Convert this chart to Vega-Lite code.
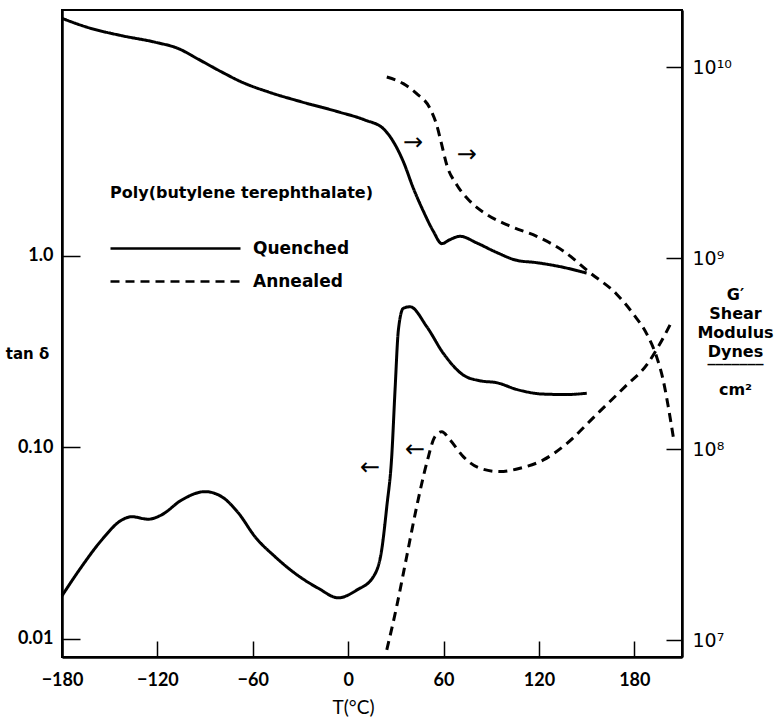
{
  "$schema": "https://vega.github.io/schema/vega-lite/v6.json",
  "autosize": {"type": "none"},
  "padding": {"left": 62, "top": 10, "right": 100, "bottom": 60},
  "width": 620,
  "height": 647,
  "background": "white",
  "config": {
    "font": "Lato",
    "view": {"stroke": "black", "strokeWidth": 2},
    "axis": {"grid": false, "domainColor": "black", "tickColor": "black", "labelColor": "black", "titleColor": "black", "domainWidth": 2.5, "tickWidth": 1.5}
  },
  "datasets": {
    "tand": [
      {"T": -180, "tand": 0.0168, "sample": "Quenched"},
      {"T": -167.6, "tand": 0.0239, "sample": "Quenched"},
      {"T": -155.0, "tand": 0.0329, "sample": "Quenched"},
      {"T": -142.4, "tand": 0.0418, "sample": "Quenched"},
      {"T": -136.2, "tand": 0.0435, "sample": "Quenched"},
      {"T": -125.7, "tand": 0.0422, "sample": "Quenched"},
      {"T": -117.3, "tand": 0.0445, "sample": "Quenched"},
      {"T": -104.7, "tand": 0.0532, "sample": "Quenched"},
      {"T": -90.0, "tand": 0.0588, "sample": "Quenched"},
      {"T": -79.5, "tand": 0.0553, "sample": "Quenched"},
      {"T": -68.9, "tand": 0.0453, "sample": "Quenched"},
      {"T": -58.6, "tand": 0.0342, "sample": "Quenched"},
      {"T": -46.0, "tand": 0.0269, "sample": "Quenched"},
      {"T": -33.4, "tand": 0.0220, "sample": "Quenched"},
      {"T": -18.8, "tand": 0.0184, "sample": "Quenched"},
      {"T": -6.2, "tand": 0.0164, "sample": "Quenched"},
      {"T": 5.4, "tand": 0.0180, "sample": "Quenched"},
      {"T": 15.8, "tand": 0.0211, "sample": "Quenched"},
      {"T": 21.1, "tand": 0.0292, "sample": "Quenched"},
      {"T": 24.3, "tand": 0.0491, "sample": "Quenched"},
      {"T": 27.4, "tand": 0.0895, "sample": "Quenched"},
      {"T": 29.5, "tand": 0.200, "sample": "Quenched"},
      {"T": 31.6, "tand": 0.411, "sample": "Quenched"},
      {"T": 34.7, "tand": 0.533, "sample": "Quenched"},
      {"T": 38.9, "tand": 0.543, "sample": "Quenched"},
      {"T": 49.4, "tand": 0.428, "sample": "Quenched"},
      {"T": 59.9, "tand": 0.310, "sample": "Quenched"},
      {"T": 72.4, "tand": 0.239, "sample": "Quenched"},
      {"T": 82.9, "tand": 0.223, "sample": "Quenched"},
      {"T": 93.4, "tand": 0.218, "sample": "Quenched"},
      {"T": 106.0, "tand": 0.201, "sample": "Quenched"},
      {"T": 122.8, "tand": 0.190, "sample": "Quenched"},
      {"T": 137.5, "tand": 0.189, "sample": "Quenched"},
      {"T": 150.1, "tand": 0.192, "sample": "Quenched"},
      {"T": 24.3, "tand": 0.00877, "sample": "Annealed"},
      {"T": 30.5, "tand": 0.01475, "sample": "Annealed"},
      {"T": 36.8, "tand": 0.0269, "sample": "Annealed"},
      {"T": 43.1, "tand": 0.0491, "sample": "Annealed"},
      {"T": 49.4, "tand": 0.0827, "sample": "Annealed"},
      {"T": 54.6, "tand": 0.114, "sample": "Annealed"},
      {"T": 58.9, "tand": 0.121, "sample": "Annealed"},
      {"T": 64.1, "tand": 0.1094, "sample": "Annealed"},
      {"T": 72.4, "tand": 0.0896, "sample": "Annealed"},
      {"T": 82.9, "tand": 0.0779, "sample": "Annealed"},
      {"T": 95.5, "tand": 0.0748, "sample": "Annealed"},
      {"T": 108.1, "tand": 0.0779, "sample": "Annealed"},
      {"T": 122.8, "tand": 0.0861, "sample": "Annealed"},
      {"T": 137.0, "tand": 0.104, "sample": "Annealed"},
      {"T": 155.3, "tand": 0.146, "sample": "Annealed"},
      {"T": 174.2, "tand": 0.208, "sample": "Annealed"},
      {"T": 187.8, "tand": 0.270, "sample": "Annealed"},
      {"T": 196.3, "tand": 0.350, "sample": "Annealed"},
      {"T": 203.5, "tand": 0.454, "sample": "Annealed"}
    ],
    "gmod": [
      {"T": -180, "G": 1.80e10, "sample": "Quenched"},
      {"T": -163.5, "G": 1.61e10, "sample": "Quenched"},
      {"T": -142.4, "G": 1.46e10, "sample": "Quenched"},
      {"T": -121.5, "G": 1.35e10, "sample": "Quenched"},
      {"T": -106.8, "G": 1.25e10, "sample": "Quenched"},
      {"T": -94.3, "G": 1.10e10, "sample": "Quenched"},
      {"T": -79.5, "G": 9.42e9, "sample": "Quenched"},
      {"T": -67.0, "G": 8.35e9, "sample": "Quenched"},
      {"T": -50.2, "G": 7.41e9, "sample": "Quenched"},
      {"T": -29.2, "G": 6.57e9, "sample": "Quenched"},
      {"T": -6.2, "G": 5.83e9, "sample": "Quenched"},
      {"T": 10.6, "G": 5.28e9, "sample": "Quenched"},
      {"T": 22.0, "G": 4.77e9, "sample": "Quenched"},
      {"T": 28.4, "G": 4.07e9, "sample": "Quenched"},
      {"T": 34.7, "G": 3.20e9, "sample": "Quenched"},
      {"T": 41.0, "G": 2.32e9, "sample": "Quenched"},
      {"T": 47.3, "G": 1.76e9, "sample": "Quenched"},
      {"T": 53.6, "G": 1.38e9, "sample": "Quenched"},
      {"T": 58.9, "G": 1.19e9, "sample": "Quenched"},
      {"T": 64.1, "G": 1.25e9, "sample": "Quenched"},
      {"T": 70.4, "G": 1.30e9, "sample": "Quenched"},
      {"T": 80.9, "G": 1.20e9, "sample": "Quenched"},
      {"T": 93.4, "G": 1.07e9, "sample": "Quenched"},
      {"T": 106.0, "G": 9.73e8, "sample": "Quenched"},
      {"T": 118.6, "G": 9.46e8, "sample": "Quenched"},
      {"T": 131.2, "G": 9.09e8, "sample": "Quenched"},
      {"T": 150.0, "G": 8.35e8, "sample": "Quenched"},
      {"T": 24.3, "G": 8.87e9, "sample": "Annealed"},
      {"T": 34.7, "G": 8.19e9, "sample": "Annealed"},
      {"T": 43.1, "G": 7.26e9, "sample": "Annealed"},
      {"T": 51.5, "G": 6.07e9, "sample": "Annealed"},
      {"T": 55.7, "G": 4.97e9, "sample": "Annealed"},
      {"T": 58.9, "G": 3.91e9, "sample": "Annealed"},
      {"T": 62.0, "G": 3.08e9, "sample": "Annealed"},
      {"T": 68.3, "G": 2.42e9, "sample": "Annealed"},
      {"T": 76.7, "G": 1.98e9, "sample": "Annealed"},
      {"T": 87.2, "G": 1.69e9, "sample": "Annealed"},
      {"T": 101.8, "G": 1.47e9, "sample": "Annealed"},
      {"T": 118.6, "G": 1.30e9, "sample": "Annealed"},
      {"T": 135.3, "G": 1.09e9, "sample": "Annealed"},
      {"T": 152.1, "G": 8.38e8, "sample": "Annealed"},
      {"T": 168.9, "G": 6.47e8, "sample": "Annealed"},
      {"T": 179.4, "G": 5.09e8, "sample": "Annealed"},
      {"T": 187.8, "G": 4.01e8, "sample": "Annealed"},
      {"T": 194.1, "G": 3.03e8, "sample": "Annealed"},
      {"T": 198.2, "G": 2.29e8, "sample": "Annealed"},
      {"T": 201.4, "G": 1.66e8, "sample": "Annealed"},
      {"T": 204.5, "G": 1.16e8, "sample": "Annealed"}
    ],
    "arrows": [
      {"T": 40.8, "tand": 3.89, "label": "→"},
      {"T": 74.7, "tand": 3.37, "label": "→"},
      {"T": 13.7, "tand": 0.0782, "label": "←"},
      {"T": 42.0, "tand": 0.097, "label": "←"}
    ]
  },
  "encoding": {
    "x": {
      "field": "T", "type": "quantitative",
      "scale": {"domain": [-180, 210], "nice": false, "zero": false},
      "axis": {
        "orient": "bottom",
        "values": [-180, -120, -60, 0, 60, 120, 180],
        "tickSize": -16,
        "labelPadding": 30,
        "labelFontSize": 18,
        "labelFontWeight": "bold",
        "labelFlush": false,
        "labelOverlap": false,
        "title": "T(°C)",
        "titleFontSize": 19,
        "titleFontWeight": "normal",
        "titleX": 291,
        "titleY": 50,
        "titleAlign": "center",
        "titleBaseline": "middle"
      }
    }
  },
  "layer": [
    {
      "data": {"name": "tand"},
      "mark": {"type": "line", "color": "black", "strokeWidth": 3, "interpolate": "monotone"},
      "encoding": {
        "y": {
          "field": "tand", "type": "quantitative",
          "scale": {"type": "log", "domain": [0.00805, 19.26], "nice": false},
          "axis": {
            "orient": "left",
            "values": [0.01, 0.1, 1],
            "labelExpr": "datum.value < 0.05 ? '0.01' : datum.value < 0.5 ? '0.10' : '1.0'",
            "tickSize": -18,
            "labelPadding": 27,
            "labelFontSize": 18,
            "labelFontWeight": "bold",
            "title": "tan δ",
            "titleAngle": 0,
            "titleFont": "DejaVu Sans",
            "titleFontSize": 15,
            "titleFontWeight": "bold",
            "titleX": -35,
            "titleY": 343,
            "titleAlign": "center",
            "titleBaseline": "middle"
          }
        },
        "strokeDash": {
          "field": "sample", "type": "nominal",
          "scale": {"domain": ["Quenched", "Annealed"], "range": [[1, 0], [9, 6]]},
          "legend": {
            "orient": "none",
            "legendX": 48,
            "legendY": 175,
            "padding": 0,
            "title": "Poly(butylene terephthalate)",
            "titleFont": "DejaVu Sans",
            "titleFontSize": 16,
            "titleFontWeight": "bold",
            "titleColor": "black",
            "titleLimit": 500,
            "titlePadding": 39,
            "labelFont": "DejaVu Sans",
            "labelFontSize": 17,
            "labelFontWeight": "bold",
            "labelColor": "black",
            "labelOffset": 126,
            "labelLimit": 300,
            "symbolType": "M-1.6,0L24.4,0",
            "symbolSize": 100,
            "symbolStrokeWidth": 2.5,
            "symbolStrokeColor": "black",
            "symbolFillColor": "transparent",
            "rowPadding": 15
          }
        }
      }
    },
    {
      "data": {"name": "gmod"},
      "mark": {"type": "line", "color": "black", "strokeWidth": 3, "interpolate": "monotone"},
      "encoding": {
        "y": {
          "field": "G", "type": "quantitative",
          "scale": {"type": "log", "domain": [8.15e6, 1.99e10], "nice": false},
          "axis": {
            "orient": "right",
            "values": [1e7, 1e8, 1e9, 1e10],
            "labelExpr": "datum.value < 5e7 ? '10⁷' : datum.value < 5e8 ? '10⁸' : datum.value < 5e9 ? '10⁹' : '10¹⁰'",
            "tickSize": -16,
            "labelPadding": 26,
            "labelFont": "DejaVu Sans",
            "labelFontSize": 19,
            "title": ["G′", "Shear", "Modulus", "Dynes", "‾‾‾‾‾‾‾", "cm²"],
            "titleAngle": 0,
            "titleFont": "DejaVu Sans",
            "titleFontSize": 16,
            "titleFontWeight": "bold",
            "titleLineHeight": 19,
            "titleX": 53,
            "titleY": 276,
            "titleAlign": "center",
            "titleBaseline": "top"
          }
        },
        "strokeDash": {
          "field": "sample", "type": "nominal",
          "scale": {"domain": ["Quenched", "Annealed"], "range": [[1, 0], [9, 6]]}
        }
      }
    },
    {
      "data": {"name": "arrows"},
      "mark": {"type": "text", "font": "DejaVu Sans", "fontSize": 24, "color": "black", "align": "center", "baseline": "middle"},
      "encoding": {
        "y": {
          "field": "tand", "type": "quantitative",
          "scale": {"type": "log", "domain": [0.00805, 19.26], "nice": false},
          "axis": null
        },
        "text": {"field": "label"}
      }
    }
  ],
  "resolve": {"scale": {"y": "independent"}}
}
